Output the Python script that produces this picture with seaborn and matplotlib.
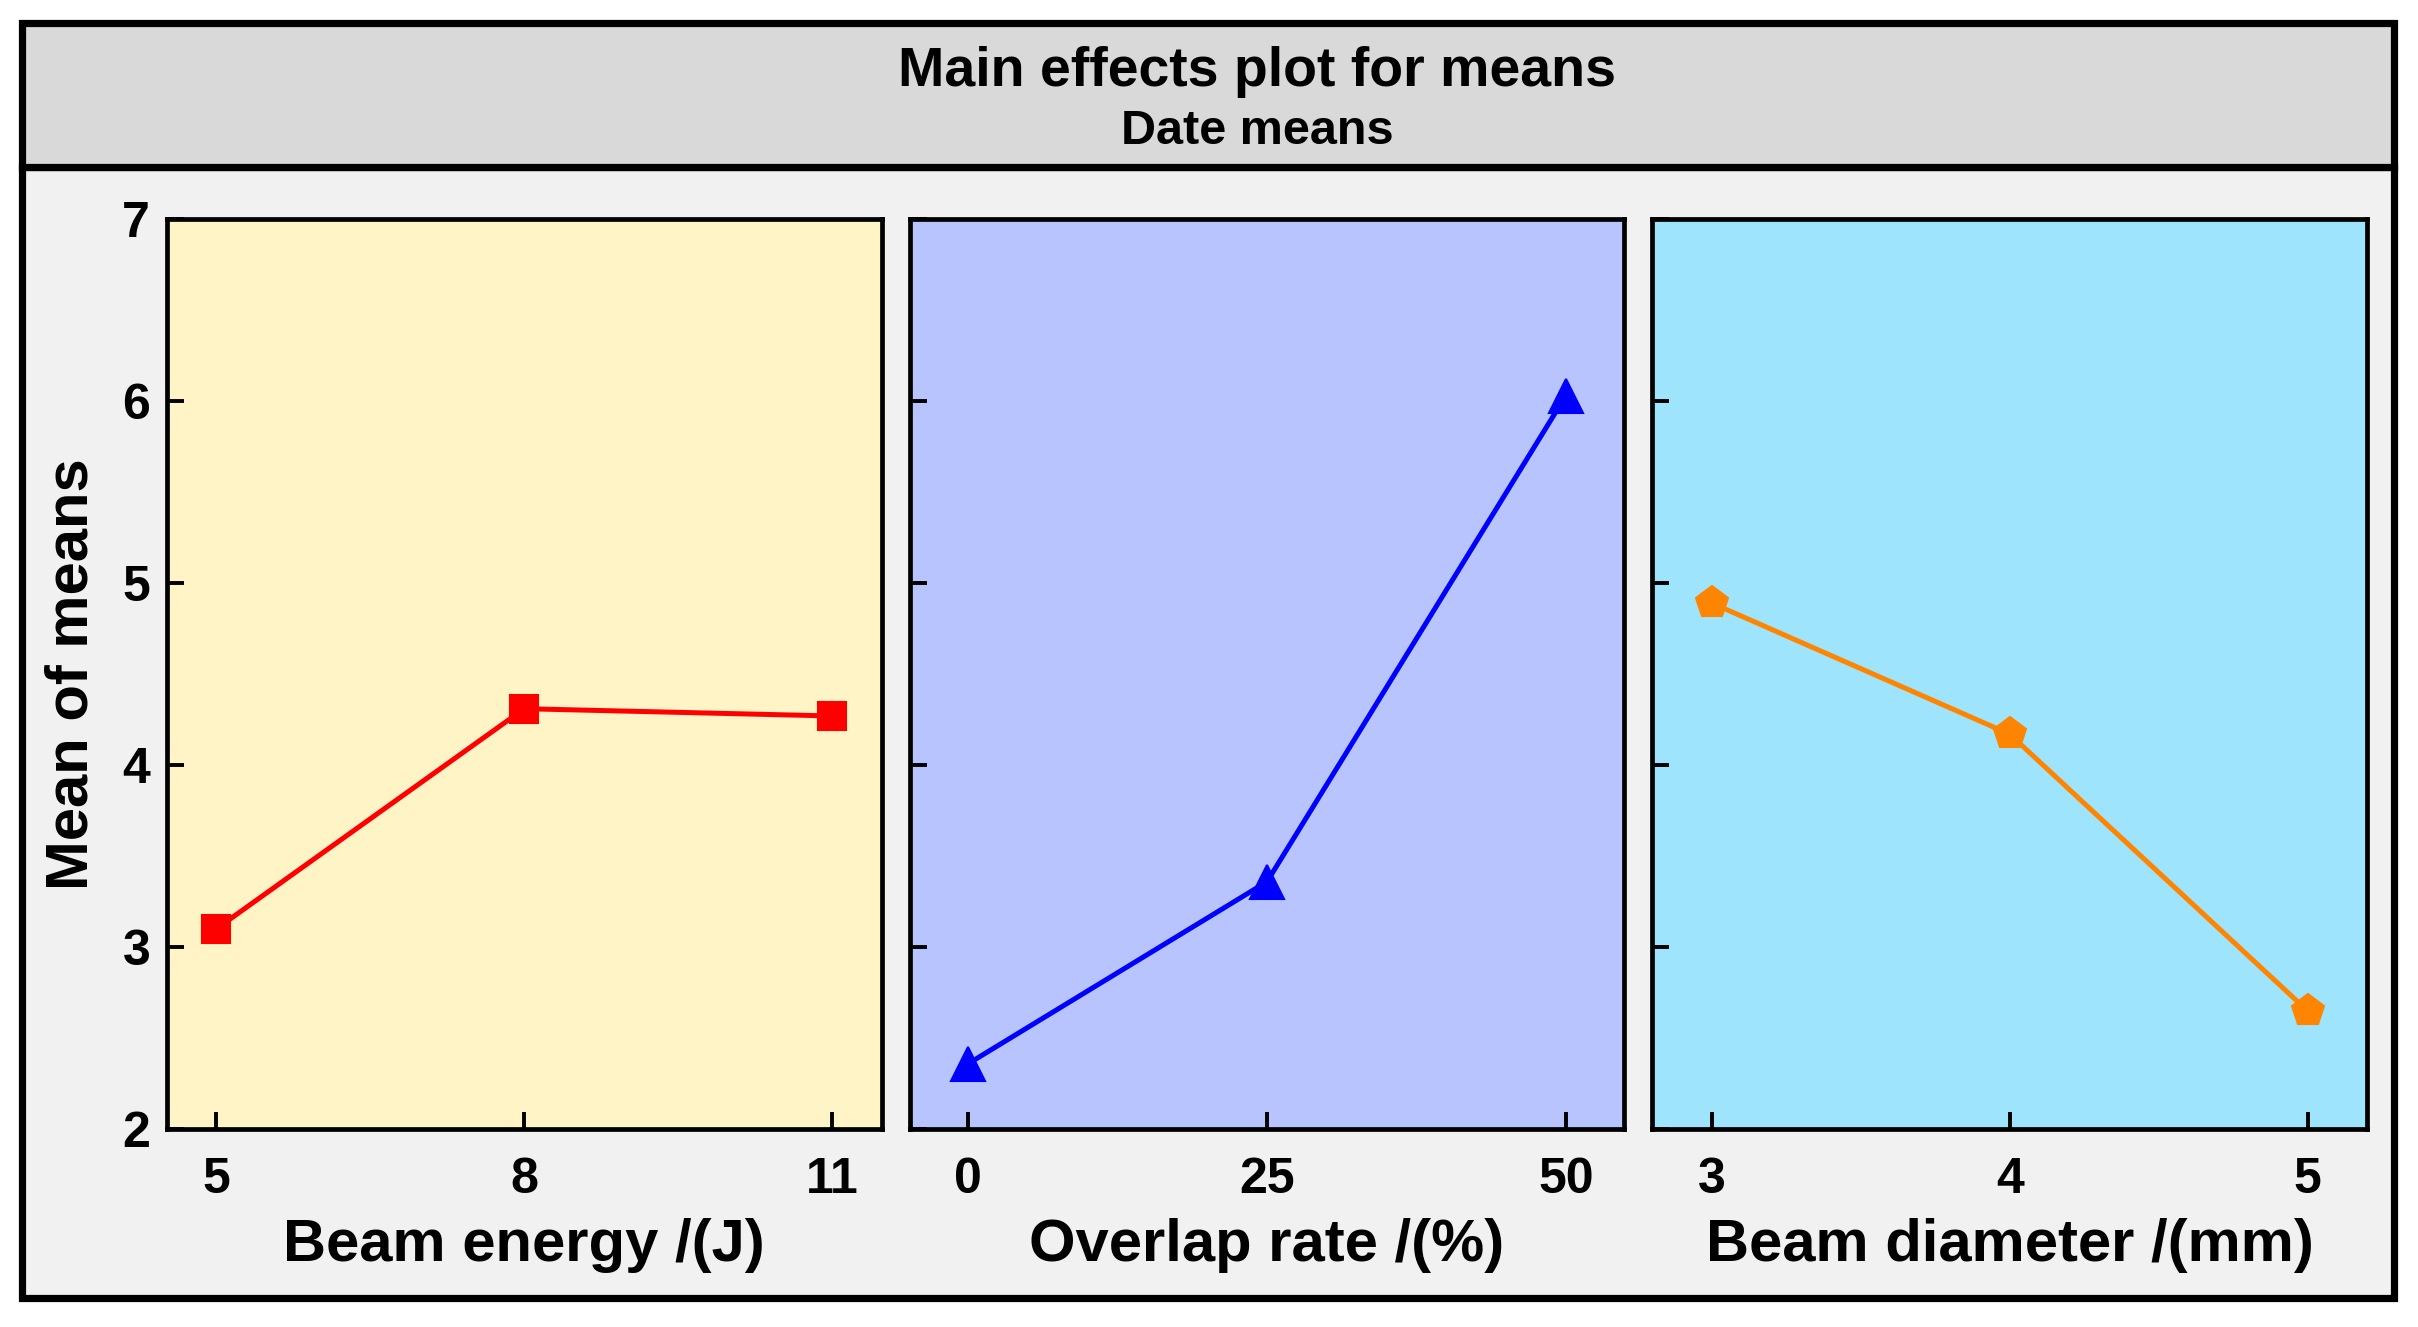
import matplotlib
matplotlib.use("Agg")
import matplotlib.pyplot as plt
from matplotlib.patches import Rectangle
import seaborn as sns

# data
energy = [5, 8, 11]
energy_means = [3.10, 4.31, 4.27]
overlap = [0, 25, 50]
overlap_means = [2.36, 3.36, 6.03]
diameter = [3, 4, 5]
diameter_means = [4.89, 4.17, 2.65]

xlabels = ["Beam energy /(J)", "Overlap rate /(%)", "Beam diameter /(mm)"]
panel_bg = ["#fff4c6", "#b8c4fd", "#9ee4fc"]
line_col = ["#ff0000", "#0000ff", "#ff8500"]
markers = ["s", "^", "p"]
msizes = [10, 12, 12]
margins = [0.08, 0.098, 0.10]

sns.set_theme(style="ticks")
plt.rcParams["font.family"] = ["Liberation Sans", "DejaVu Sans"]
plt.rcParams["font.weight"] = "bold"
plt.rcParams["axes.labelweight"] = "bold"
plt.rcParams["text.color"] = "black"
plt.rcParams["axes.labelcolor"] = "black"
plt.rcParams["xtick.color"] = "black"
plt.rcParams["ytick.color"] = "black"

fig, axes = plt.subplots(1, 3, figsize=(12.09, 6.635), dpi=200, sharey=True)
fig.patch.set_facecolor("white")
fig.subplots_adjust(left=0.069, right=0.979, bottom=0.149, top=0.835, wspace=0.039)

# outer frame + title band
fig.patches.append(Rectangle((0.009, 0.022), 0.981, 0.852, transform=fig.transFigure,
                             facecolor="#f1f1f1", edgecolor="black", lw=2.6, zorder=-5))
fig.patches.append(Rectangle((0.009, 0.874), 0.981, 0.109, transform=fig.transFigure,
                             facecolor="#d9d9d9", edgecolor="black", lw=2.6, zorder=-5))
fig.text(0.52, 0.946, "Main effects plot for means", ha="center", va="center",
         fontsize=20, fontweight="bold")
fig.text(0.52, 0.901, "Date means", ha="center", va="center",
         fontsize=17.5, fontweight="bold")

xs = [energy, overlap, diameter]
ys = [energy_means, overlap_means, diameter_means]

for i, ax in enumerate(axes):
    ax.set_facecolor(panel_bg[i])
    sns.lineplot(x=xs[i], y=ys[i], ax=ax, color=line_col[i], marker=markers[i],
                 markersize=msizes[i], markeredgecolor=line_col[i], linewidth=1.8)
    span = xs[i][-1] - xs[i][0]
    ax.set_xlim(xs[i][0] - margins[i] * span, xs[i][-1] + margins[i] * span)
    ax.set_xticks(xs[i])
    ax.set_ylim(2, 7)
    ax.set_yticks([2, 3, 4, 5, 6, 7])
    for s in ax.spines.values():
        s.set_linewidth(1.7)
        s.set_color("black")
    ax.tick_params(direction="in", length=6, width=1.4, labelsize=18, color="black",
                   labelcolor="black")
    ax.tick_params(axis="x", pad=10)
    ax.tick_params(axis="y", pad=6)
    ax.set_xlabel(xlabels[i], fontsize=21.5, va="center")
    ax.xaxis.set_label_coords(0.5, -0.128)

axes[0].set_ylabel("Mean of means", fontsize=21.5, va="center")
axes[0].yaxis.set_label_coords(-0.133, 0.5)

fig.savefig("out.png", dpi=200)
